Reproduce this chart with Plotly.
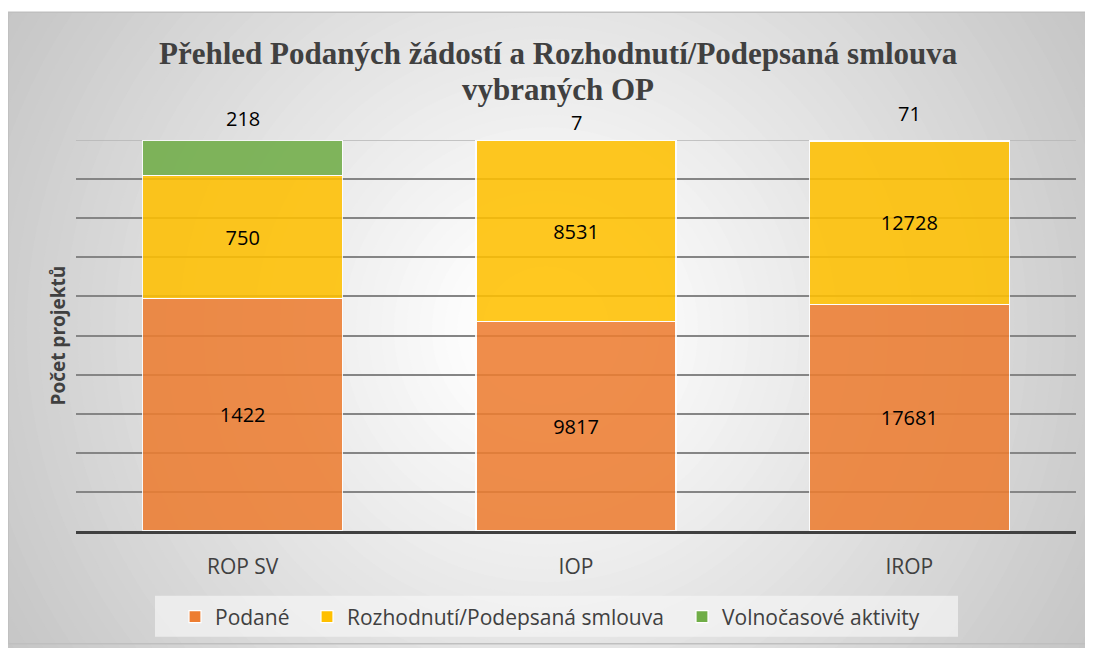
import plotly.graph_objects as go

categories = ["ROP SV", "IOP", "IROP"]
podane = [1422, 9817, 17681]
rozhodnuti = [750, 8531, 12728]
volnocasove = [218, 7, 71]
series_names = ["Podané", "Rozhodnutí/Podepsaná smlouva", "Volnočasové aktivity"]
colors = ["#ED7D31", "#FFC000", "#70AD47"]
title_lines = ["Přehled Podaných žádostí a Rozhodnutí/Podepsaná smlouva", "vybraných OP"]

OFF = 8  # page body margin
W, H = 1085, 640
# plot area in screen pixels: x 76..1076, y 140..532
ML = 76 - OFF
MR = W - (1076 - OFF)
MT = 140 - OFF
MB = H - (532 - OFF)
PW = W - ML - MR
PH = H - MT - MB

def px_x(s):
    return (s - OFF - ML) / PW

def px_y(s):
    return (H - MB - (s - OFF)) / PH

FONT = "Open Sans, Liberation Sans, sans-serif"

fig = go.Figure()
legend_ids = ["legend", "legend2", "legend3"]
for name, vals, col, show_text, lg in [
    (series_names[0], podane, colors[0], True, legend_ids[0]),
    (series_names[1], rozhodnuti, colors[1], True, legend_ids[1]),
    (series_names[2], volnocasove, colors[2], False, legend_ids[2]),
]:
    fig.add_trace(go.Bar(
        x=categories, y=vals, name=name, legend=lg,
        marker=dict(color=col, opacity=0.87, line=dict(color="white", width=1.2)),
        text=[str(v) for v in vals] if show_text else None,
        textposition="inside" if show_text else "none",
        insidetextanchor="middle",
        textfont=dict(family=FONT, size=20, color="black"),
        hoverinfo="x+y+name",
    ))

# outside labels for the top series
label_shift = [22, 18, 27]
for c, v, s in zip(categories, volnocasove, label_shift):
    fig.add_annotation(x=c, y=100, text=str(v), showarrow=False, yshift=s,
                       font=dict(family=FONT, size=20, color="black"))

# background: radial vignette made of concentric circles
shapes = []
cxs, cys = 546, 330
R = 626.0
n = 60
rmax = 760
for i in range(n):
    r = rmax * (1 - i / n)
    g = int(round(min(255, 261 - 63 * (r / R))))
    shapes.append(dict(type="circle", xref="paper", yref="paper",
                       x0=px_x(cxs - r), x1=px_x(cxs + r),
                       y0=px_y(cys + r), y1=px_y(cys - r),
                       fillcolor=f"rgb({g},{g},{g})", line=dict(width=0), layer="below"))
# white strip above the chart border
shapes.append(dict(type="rect", xref="paper", yref="paper", x0=px_x(-20), x1=px_x(1120),
                   y0=px_y(12), y1=px_y(-20), fillcolor="white", line=dict(width=0), layer="below"))
# chart border
shapes.append(dict(type="rect", xref="paper", yref="paper", x0=px_x(8), x1=px_x(1090),
                   y0=px_y(645), y1=px_y(12), fillcolor="rgba(0,0,0,0)",
                   line=dict(color="#bfbfbf", width=1.5), layer="below"))
# legend background box
shapes.append(dict(type="rect", xref="paper", yref="paper", x0=px_x(155), x1=px_x(958),
                   y0=px_y(638), y1=px_y(597), fillcolor="rgba(245,245,245,0.7)",
                   line=dict(width=0), layer="below"))
# top gridline (range end)
shapes.append(dict(type="line", xref="paper", yref="y", x0=0, x1=1, y0=100, y1=100,
                   line=dict(color="#b5b5b5", width=1.5), layer="below"))

legend_text_x = [218, 350, 725]
legend_style = dict(orientation="h", yanchor="middle", xanchor="left", bgcolor="rgba(0,0,0,0)",
                    font=dict(family=FONT, size=21, color="#404040"))

fig.update_layout(
    width=W, height=H,
    margin=dict(l=ML, r=MR, t=MT, b=MB),
    barmode="stack", barnorm="percent", bargap=0.4,
    paper_bgcolor="white", plot_bgcolor="rgba(0,0,0,0)",
    shapes=shapes,
    showlegend=True,
    legend=dict(x=px_x(legend_text_x[0] - 43), y=px_y(617), **legend_style),
    legend2=dict(x=px_x(legend_text_x[1] - 43), y=px_y(617), **legend_style),
    legend3=dict(x=px_x(legend_text_x[2] - 43), y=px_y(617), **legend_style),
    xaxis=dict(showgrid=False, showline=True, linecolor="#404040", linewidth=3,
               tickfont=dict(family=FONT, size=21, color="#404040"),
               ticklabelstandoff=15, ticks=""),
    yaxis=dict(range=[0, 100], dtick=10, showgrid=True, gridcolor="#858585", gridwidth=1.5,
               showticklabels=False, zeroline=False, showline=False),
)
# title (two lines)
for line, yc in zip(title_lines, [53, 89]):
    fig.add_annotation(x=px_x(558), y=px_y(yc), xref="paper", yref="paper", text=f"<b>{line}</b>",
                       showarrow=False, xanchor="center", yanchor="middle",
                       font=dict(family="Liberation Serif, Times New Roman, serif", size=31,
                                 color="#404040"))
fig.add_annotation(x=px_x(57), y=px_y(336), xref="paper", yref="paper", text="<b>Počet projektů</b>",
                   textangle=-90, showarrow=False, xanchor="center", yanchor="middle",
                   font=dict(family=FONT, size=19, color="#404040"))

fig.write_html("out.html")
